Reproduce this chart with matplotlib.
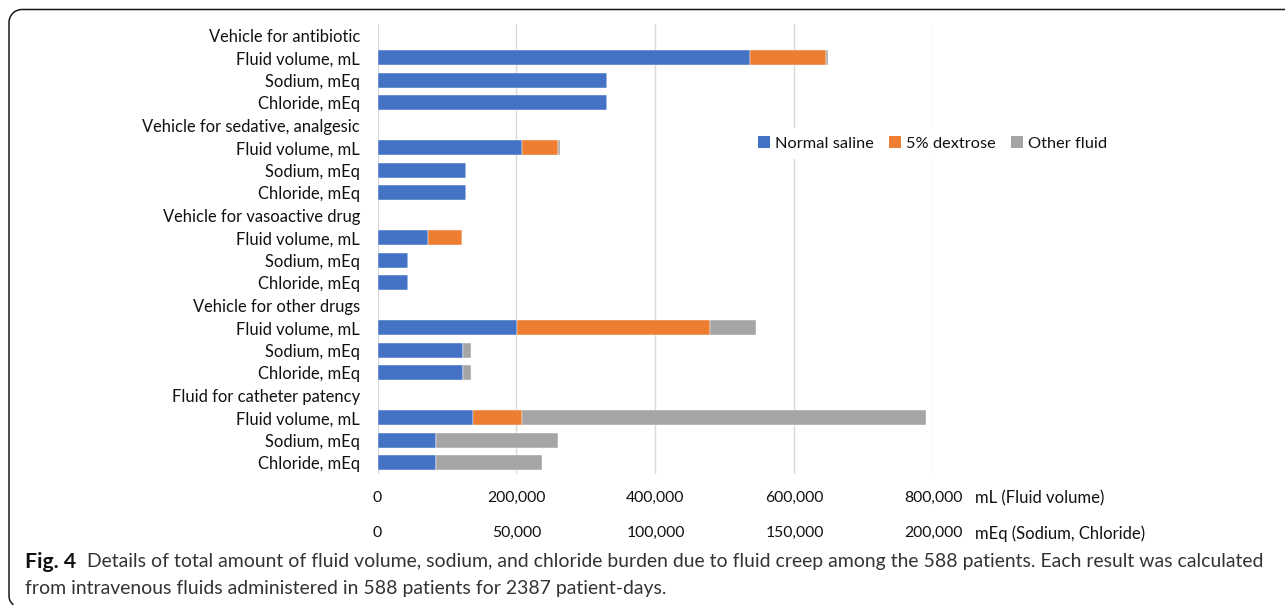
import numpy as np
import matplotlib
matplotlib.use("Agg")
import matplotlib.pyplot as plt
from matplotlib.patches import Patch
from matplotlib.lines import Line2D

# ---------------- data ----------------
groups = ["Vehicle for antibiotic", "Vehicle for sedative, analgesic",
          "Vehicle for vasoactive drug", "Vehicle for other drugs",
          "Fluid for catheter patency"]
measures = ["Fluid volume, mL", "Sodium, mEq", "Chloride, mEq"]
series = ["Normal saline", "5% dextrose", "Other fluid"]

# fluid volume (mL)
fluid_ns = [536400, 207900, 72900, 200900, 137600]
fluid_d5 = [108900, 52400, 48700, 277600, 70400]
fluid_other = [2300, 1700, 0, 66900, 581300]
# sodium (mEq)
sodium_ns = [82550, 31900, 11000, 30700, 21000]
sodium_d5 = [0, 0, 0, 0, 0]
sodium_other = [0, 0, 0, 3060, 43900]
# chloride (mEq)
chloride_ns = [82500, 31700, 11000, 30700, 21000]
chloride_d5 = [0, 0, 0, 0, 0]
chloride_other = [0, 0, 0, 2900, 38300]

ml_ticks = [0, 200000, 400000, 600000, 800000]
meq_ticks = [0, 50000, 100000, 150000, 200000]
caption_bold = "Fig. 4"
caption_l1 = ("Details of total amount of fluid volume, sodium, and chloride burden due to "
              "fluid creep among the 588 patients. Each result was calculated")
caption_l2 = "from intravenous fluids administered in 588 patients for 2387 patient-days."

# ---------------- style ----------------
W, H = 1285, 609
colors = ["#4472C4", "#ED7D31", "#A5A5A5"]
FONT = "Lato"
TXT = "#111111"

fig = plt.figure(figsize=(W / 100, H / 100), dpi=100)
renderer = fig.canvas.get_renderer()


def fit(text, target_px, weight="normal", family=FONT, base=10.0):
    t = fig.text(0, 0, text, fontsize=base, family=family, weight=weight)
    w = t.get_window_extent(renderer).width
    t.remove()
    return base * target_px / w


lab_fs = fit("Vehicle for sedative, analgesic", 218)
tick_fs = fit("200,000", 58)
unit_fs = fit("mL (Fluid volume)", 129)
leg_fs = fit("Normal saline", 98.5)

x0, x1, ytop, ybot = 377.5, 933.4, 24.0, 474.0
rect = [x0 / W, 1 - ybot / H, (x1 - x0) / W, (ybot - ytop) / H]
ax = fig.add_axes(rect)
ax2 = fig.add_axes(rect, sharey=ax)
ax2.patch.set_visible(False)

# row layout
labels = []
for g in groups:
    labels.append(g)
    labels.extend(measures)
rows = np.arange(len(labels))
r_fluid = np.array([i * 4 + 1 for i in range(len(groups))])
r_sod = r_fluid + 1
r_chl = r_fluid + 2
bh = 0.667


def stack(a, r, vals_list):
    left = np.zeros(len(r))
    for vals, c, s in zip(vals_list, colors, series):
        v = np.array(vals, dtype=float)
        a.barh(r, v, left=left, height=bh, color=c, label=s,
               edgecolor="white", linewidth=0.3, zorder=3)
        left = left + v


stack(ax, r_fluid, [fluid_ns, fluid_d5, fluid_other])
stack(ax2, r_sod, [sodium_ns, sodium_d5, sodium_other])
stack(ax2, r_chl, [chloride_ns, chloride_d5, chloride_other])

ax.set_ylim(len(labels) - 0.5, -0.5)
ax.set_yticks(rows)
ax.set_yticklabels(labels, fontsize=lab_fs, family=FONT, color=TXT)
ax.tick_params(axis="y", length=0, pad=12.6)
ax2.tick_params(axis="y", left=False, labelleft=False)

ax.set_xlim(0, 800000)
ax.set_xticks(ml_ticks)
ax.set_xticklabels([f"{v:,}" for v in ml_ticks], fontsize=tick_fs, family=FONT, color=TXT)
ax.tick_params(axis="x", length=0, pad=12.0)
ax.xaxis.grid(True, color="#D9D9D9", linewidth=1.0, zorder=0)
ax.set_axisbelow(True)

ax2.set_xlim(0, 200000)
ax2.set_xticks(meq_ticks)
ax2.set_xticklabels([f"{v:,}" for v in meq_ticks], fontsize=tick_fs, family=FONT, color=TXT)
ax2.tick_params(axis="x", length=0, pad=37.3)

for a in (ax, ax2):
    for sp in a.spines.values():
        sp.set_visible(False)

fig.text(974.6 / W, 1 - 498 / H, "mL (Fluid volume)", fontsize=unit_fs, family=FONT,
         color=TXT, ha="left", va="center")
fig.text(974.6 / W, 1 - 533.3 / H, "mEq (Sodium, Chloride)", fontsize=unit_fs, family=FONT,
         color=TXT, ha="left", va="center")

handles = [Patch(facecolor=c) for c in colors]
leg = fig.legend(handles, series, loc="center", ncol=3,
                 bbox_to_anchor=(932.5 / W, 1 - 143.3 / H),
                 prop={"family": FONT, "size": leg_fs},
                 frameon=True, facecolor="white", edgecolor="none", framealpha=1,
                 handlelength=0.7, handleheight=0.7, handletextpad=0.3,
                 columnspacing=0.95, borderpad=0.5, fancybox=False)
for t in leg.get_texts():
    t.set_color(TXT)

# caption
cap_fs = fit(caption_l1, 1176.5)
bold_fs = fit(caption_bold, 51, weight="bold")
fig.text(25 / W, 1 - 561.7 / H, caption_bold, fontsize=bold_fs, family=FONT,
         weight="bold", color="#111111", ha="left", va="center")
fig.text(87 / W, 1 - 561.7 / H, caption_l1, fontsize=cap_fs, family=FONT,
         color="#333333", ha="left", va="center")
fig.text(25 / W, 1 - 588.3 / H, caption_l2, fontsize=cap_fs, family=FONT,
         color="#333333", ha="left", va="center")

# frame (top and left edges with rounded corners)
r = 13.0
th = np.linspace(np.pi / 2, np.pi, 20)
xs = [W + 5, 9 + r] + list(9 + r + r * np.cos(th)) + [9]
ys = [9.5, 9.5] + list(9.5 + r - r * np.sin(th)) + [596]
th2 = np.linspace(np.pi, 1.25 * np.pi, 10)
xs += list(9 + r + r * np.cos(th2))
ys += list(596 - r * np.sin(th2) * 0.9)
fig.add_artist(Line2D(np.array(xs) / W, 1 - np.array(ys) / H, color="#1a1a1a",
                      linewidth=1.1, transform=fig.transFigure))

fig.savefig("out.png", dpi=100)
